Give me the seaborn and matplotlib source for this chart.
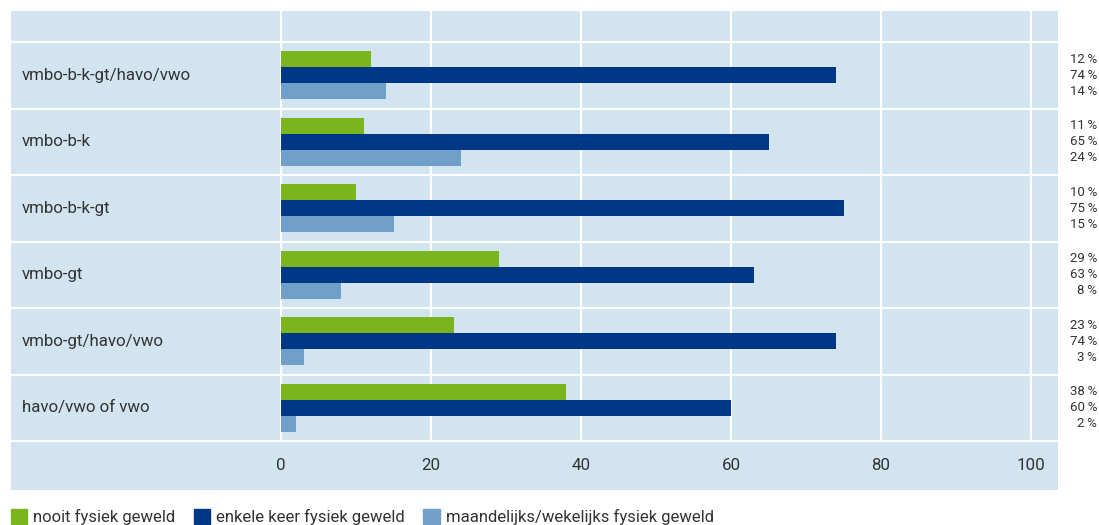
import matplotlib
matplotlib.use("Agg")
import matplotlib.pyplot as plt
import matplotlib.patches as mpatches
import seaborn as sns
import pandas as pd

categories = ["vmbo-b-k-gt/havo/vwo", "vmbo-b-k", "vmbo-b-k-gt", "vmbo-gt",
              "vmbo-gt/havo/vwo", "havo/vwo of vwo"]
series_names = ["nooit fysiek geweld", "enkele keer fysiek geweld",
                "maandelijks/wekelijks fysiek geweld"]
nooit = [12, 11, 10, 29, 23, 38]
enkele = [74, 65, 75, 63, 74, 60]
maandelijks = [14, 24, 15, 8, 3, 2]
x_ticks = [0, 20, 40, 60, 80, 100]

colors = ["#7ab51d", "#003887", "#709fca"]
bg = "#d1e4ef"
txt = "#333333"

rows = []
for name, vals in zip(series_names, [nooit, enkele, maandelijks]):
    for c, v in zip(categories, vals):
        rows.append({"cat": c, "serie": name, "val": v})
df = pd.DataFrame(rows)

sns.set_style("white")
plt.rcParams["font.family"] = ["Roboto", "DejaVu Sans"]

W, H = 1099, 525
fig = plt.figure(figsize=(W / 100, H / 100), dpi=100)
ax = fig.add_axes([11 / W, 1 - 490 / H, (1058 - 11) / W, (490 - 11) / H])
ax.set_facecolor(bg)

sns.barplot(data=df, y="cat", x="val", hue="serie", orient="h",
            hue_order=series_names, order=categories, palette=colors,
            width=0.72, gap=0, linewidth=0, saturation=1, legend=False, ax=ax,
            zorder=3)

ppu = 7.5  # pixels per unit
x0 = 281
ax.set_xlim((11 - x0) / ppu, (1058 - x0) / ppu)
row_h = (441 - 42) / 6
top_extra = (42 - 11) / row_h
bot_extra = (490 - 441) / row_h
ax.set_ylim(5.5 + bot_extra, -0.5 - top_extra)

for s in ax.spines.values():
    s.set_visible(False)
ax.set_xticks([])
ax.set_yticks([])
ax.set_xlabel("")
ax.set_ylabel("")

# grid lines
for t in x_ticks:
    ax.plot([t, t], [5.5, -0.5 - top_extra], color="white", lw=1.6, zorder=2,
            solid_capstyle="butt")
for k in range(len(categories) + 1):
    ax.axhline(k - 0.5, color="white", lw=1.6, zorder=2)

# tick labels
for t in x_ticks:
    ax.text(t, 5.5 + (465 - 441) / row_h, str(t), ha="center", va="center",
            fontsize=12.2, color=txt)

# category labels
for i, c in enumerate(categories):
    ax.text((22 - x0) / ppu, i, c, ha="left", va="center", fontsize=12.2,
            color=txt)

# value labels
trans = matplotlib.transforms.blended_transform_factory(fig.transFigure, ax.transData)
offs = [-0.24, 0.0, 0.24]
for j, vals in enumerate([nooit, enkele, maandelijks]):
    for i, v in enumerate(vals):
        ax.text(1097 / W, i + offs[j], f"{v}\u2009%", transform=trans, ha="right",
                va="center", fontsize=9.5, color=txt, clip_on=False)

handles = [mpatches.Patch(color=c, label=n) for c, n in zip(colors, series_names)]
fig.legend(handles=handles, loc="center left", bbox_to_anchor=(4 / W, 8 / H),
           ncol=3, frameon=False, fontsize=12, handlelength=1.0,
           handleheight=1.0, handletextpad=0.35, columnspacing=1.1,
           labelcolor=txt, borderaxespad=0)

fig.savefig("out.png", dpi=100, facecolor="white")
